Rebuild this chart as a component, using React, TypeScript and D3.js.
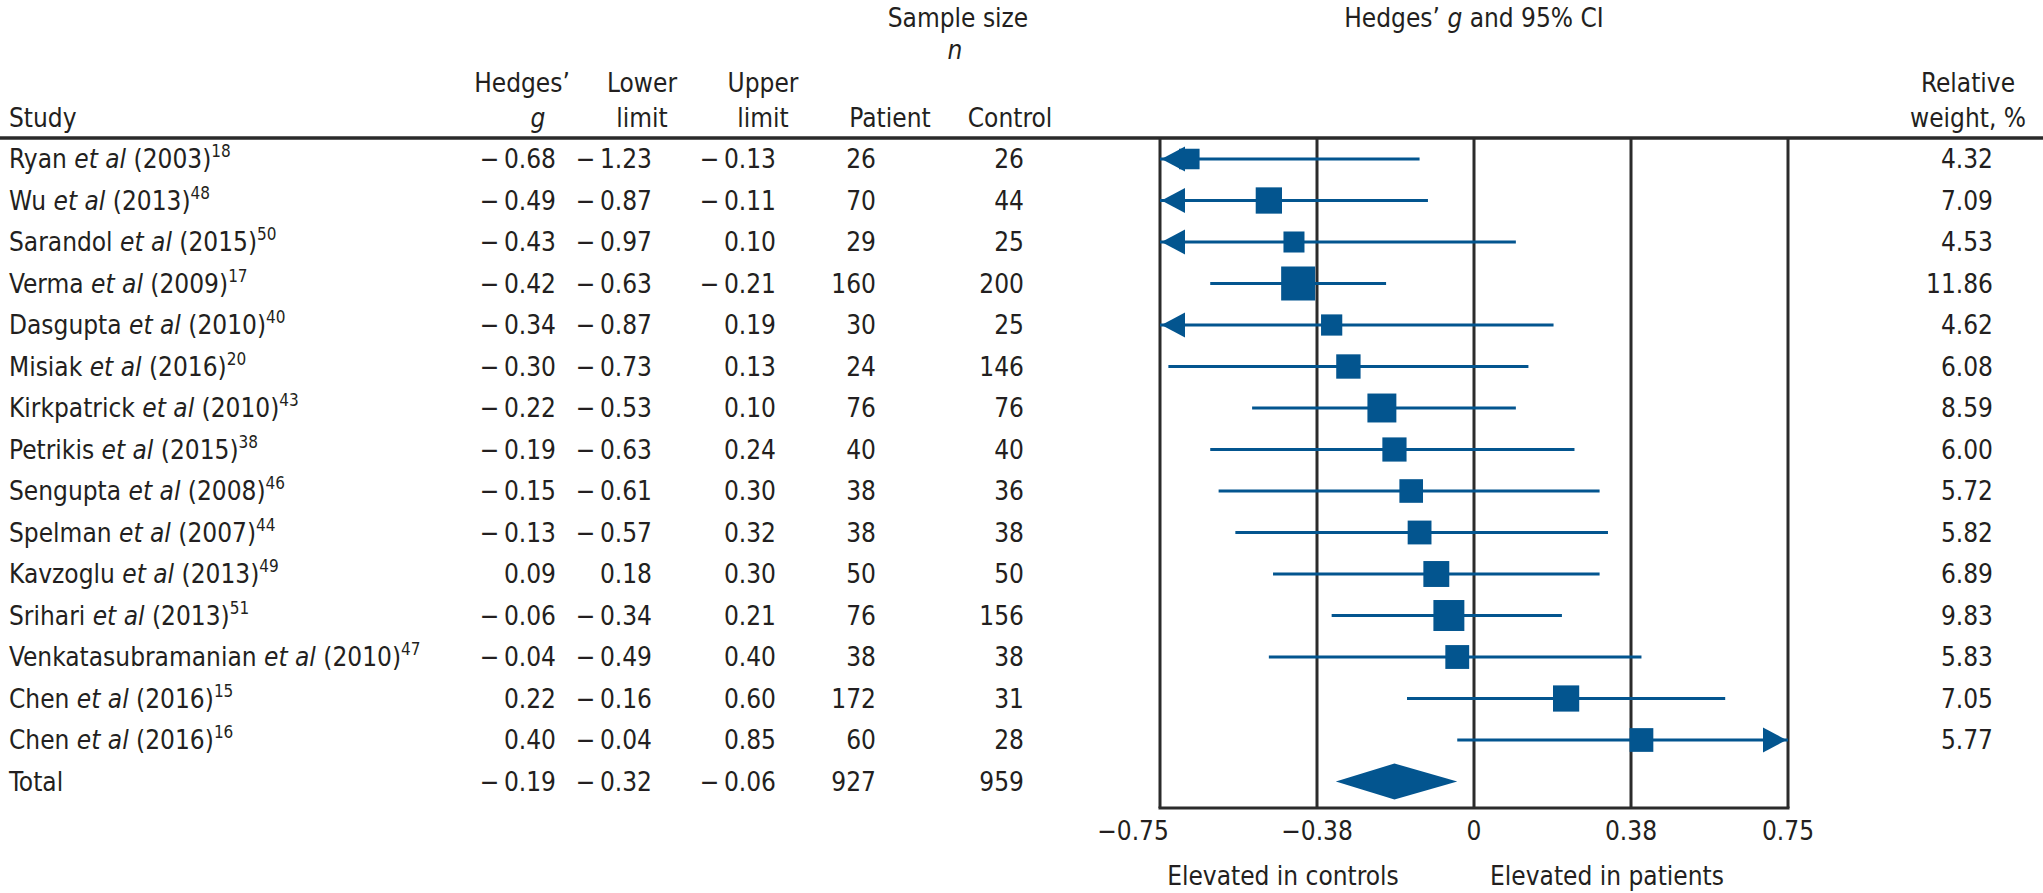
import React from 'react';
import * as d3 from 'd3';

// study rows, top to bottom
const authors = ['Ryan', 'Wu', 'Sarandol', 'Verma', 'Dasgupta', 'Misiak', 'Kirkpatrick', 'Petrikis', 'Sengupta', 'Spelman', 'Kavzoglu', 'Srihari', 'Venkatasubramanian', 'Chen', 'Chen'];
const years = ['2003', '2013', '2015', '2009', '2010', '2016', '2010', '2015', '2008', '2007', '2013', '2013', '2010', '2016', '2016'];
const refs = ['18', '48', '50', '17', '40', '20', '43', '38', '46', '44', '49', '51', '47', '15', '16'];

// values printed in the table
const tableG = [-0.68, -0.49, -0.43, -0.42, -0.34, -0.30, -0.22, -0.19, -0.15, -0.13, 0.09, -0.06, -0.04, 0.22, 0.40];
const tableLower = [-1.23, -0.87, -0.97, -0.63, -0.87, -0.73, -0.53, -0.63, -0.61, -0.57, 0.18, -0.34, -0.49, -0.16, -0.04];
const tableUpper = [-0.13, -0.11, 0.10, -0.21, 0.19, 0.13, 0.10, 0.24, 0.30, 0.32, 0.30, 0.21, 0.40, 0.60, 0.85];
const patients = [26, 70, 29, 160, 30, 24, 76, 40, 38, 38, 50, 76, 38, 172, 60];
const controls = [26, 44, 25, 200, 25, 146, 76, 40, 36, 38, 50, 156, 38, 31, 28];
const weights = [4.32, 7.09, 4.53, 11.86, 4.62, 6.08, 8.59, 6.00, 5.72, 5.82, 6.89, 9.83, 5.83, 7.05, 5.77];

// values as drawn in the forest plot
const plotG = [-0.68, -0.49, -0.43, -0.42, -0.34, -0.30, -0.22, -0.19, -0.15, -0.13, -0.09, -0.06, -0.04, 0.22, 0.40];
const plotLower = [-1.23, -0.87, -0.97, -0.63, -0.87, -0.73, -0.53, -0.63, -0.61, -0.57, -0.48, -0.34, -0.49, -0.16, -0.04];
const plotUpper = [-0.13, -0.11, 0.10, -0.21, 0.19, 0.13, 0.10, 0.24, 0.30, 0.32, 0.30, 0.21, 0.40, 0.60, 0.85];

// pooled estimate
const totalTable = [-0.19, -0.32, -0.06];
const totalN = [927, 959];
const totalPlot = { g: -0.19, lo: -0.33, hi: -0.04 };

const tickValues = [-0.75, -0.375, 0, 0.375, 0.75];
const tickLabels = ['\u22120.75', '\u22120.38', '0', '0.38', '0.75'];

const W = 2043;
const H = 893;
const FONT = "'Liberation Sans Narrow', 'DejaVu Sans Condensed', 'Roboto Condensed', 'Open Sans', sans-serif";
const BLUE = '#03558f';
const INK = '#231f20';
const FRAME = '#2b2b2b';

const fmt = (v: number) => {
    const s = d3.format('.2f')(Math.abs(v));
    return v < 0 ? '\u2212\u2009' + s : s;
};

export default function App() {
    const x = d3.scaleLinear().domain([-0.75, 0.75]).range([1160, 1788]);
    const y = d3.scalePoint<number>().domain(d3.range(16)).range([159, 781.5]);
    const side = d3.scaleSqrt().domain([0, 11.86]).range([0, 34]);

    const top = 138;
    const bottom = 808;
    const base = 9; // text baseline offset from row center

    const colG = 556;
    const colLo = 652;
    const colHi = 776;
    const colPat = 876;
    const colCon = 1024;
    const colW = 1993;

    const arrowLen = 25;
    const arrowHalf = 12.5;

    return (
        <div style={{ position: 'absolute', left: 0, top: 0 }}>
            <svg width={W} height={H} fontFamily={FONT} fontSize={26} fill={INK}>
                <rect width={W} height={H} fill="#fff" />

                {/* column headers */}
                <g>
                    <text x={958} y={27} textAnchor="middle">Sample size</text>
                    <text x={955} y={59} textAnchor="middle" fontStyle="italic">n</text>
                    <text x={x(0)} y={27} textAnchor="middle">
                        Hedges’ <tspan fontStyle="italic">g</tspan> and 95% CI
                    </text>
                    <text x={9} y={127}>Study</text>
                    <text x={colG - 34} y={92} textAnchor="middle">Hedges’</text>
                    <text x={colG - 18} y={127} textAnchor="middle" fontStyle="italic">g</text>
                    <text x={colLo - 10} y={92} textAnchor="middle">Lower</text>
                    <text x={colLo - 10} y={127} textAnchor="middle">limit</text>
                    <text x={colHi - 13} y={92} textAnchor="middle">Upper</text>
                    <text x={colHi - 13} y={127} textAnchor="middle">limit</text>
                    <text x={colPat + 14} y={127} textAnchor="middle">Patient</text>
                    <text x={colCon - 14} y={127} textAnchor="middle">Control</text>
                    <text x={1968} y={92} textAnchor="middle">Relative</text>
                    <text x={1968} y={127} textAnchor="middle">weight, %</text>
                </g>

                <line x1={0} x2={W} y1={top} y2={top} stroke={FRAME} strokeWidth={3.5} />

                {/* table rows */}
                {authors.map((a, i) => (
                    <g key={i}>
                        <text x={9} y={y(i)! + base}>
                            {a} <tspan fontStyle="italic">et al</tspan> ({years[i]})
                            <tspan dy={-11} fontSize={17}>{refs[i]}</tspan>
                        </text>
                        <text x={colG} y={y(i)! + base} textAnchor="end">{fmt(tableG[i])}</text>
                        <text x={colLo} y={y(i)! + base} textAnchor="end">{fmt(tableLower[i])}</text>
                        <text x={colHi} y={y(i)! + base} textAnchor="end">{fmt(tableUpper[i])}</text>
                        <text x={colPat} y={y(i)! + base} textAnchor="end">{patients[i]}</text>
                        <text x={colCon} y={y(i)! + base} textAnchor="end">{controls[i]}</text>
                        <text x={colW} y={y(i)! + base} textAnchor="end">{weights[i].toFixed(2)}</text>
                    </g>
                ))}
                <g>
                    <text x={9} y={y(15)! + base}>Total</text>
                    <text x={colG} y={y(15)! + base} textAnchor="end">{fmt(totalTable[0])}</text>
                    <text x={colLo} y={y(15)! + base} textAnchor="end">{fmt(totalTable[1])}</text>
                    <text x={colHi} y={y(15)! + base} textAnchor="end">{fmt(totalTable[2])}</text>
                    <text x={colPat} y={y(15)! + base} textAnchor="end">{totalN[0]}</text>
                    <text x={colCon} y={y(15)! + base} textAnchor="end">{totalN[1]}</text>
                </g>

                {/* plot frame */}
                {tickValues.map((v, i) => (
                    <line key={i} x1={x(v)} x2={x(v)} y1={top} y2={bottom} stroke={FRAME} strokeWidth={3} />
                ))}
                <line x1={x(-0.75) - 1.5} x2={x(0.75) + 1.5} y1={bottom} y2={bottom} stroke={FRAME} strokeWidth={3} />
                {tickValues.map((v, i) => (
                    <text key={i} x={x(v) + (i === 0 ? -27 : 0)} y={840} textAnchor="middle">{tickLabels[i]}</text>
                ))}
                <text x={1283} y={885} textAnchor="middle">Elevated in controls</text>
                <text x={1607} y={885} textAnchor="middle">Elevated in patients</text>

                {/* study estimates */}
                {plotG.map((g, i) => {
                    const cy = y(i)!;
                    const lo = Math.max(plotLower[i], -0.75);
                    const hi = Math.min(plotUpper[i], 0.75);
                    const s = side(weights[i]);
                    return (
                        <g key={i} fill={BLUE}>
                            <line x1={x(lo)} x2={x(hi)} y1={cy} y2={cy} stroke={BLUE} strokeWidth={3} />
                            <rect x={x(g) - s / 2} y={cy - s / 2} width={s} height={s} />
                            {plotLower[i] < -0.75 && (
                                <polygon points={`${x(-0.75) + 1.5},${cy} ${x(-0.75) + arrowLen},${cy - arrowHalf} ${x(-0.75) + arrowLen},${cy + arrowHalf}`} />
                            )}
                            {plotUpper[i] > 0.75 && (
                                <polygon points={`${x(0.75) - 1.5},${cy} ${x(0.75) - arrowLen},${cy - arrowHalf} ${x(0.75) - arrowLen},${cy + arrowHalf}`} />
                            )}
                        </g>
                    );
                })}

                {/* pooled diamond */}
                <polygon
                    fill={BLUE}
                    points={[
                        [x(totalPlot.lo), y(15)!],
                        [x(totalPlot.g), y(15)! - 18],
                        [x(totalPlot.hi), y(15)!],
                        [x(totalPlot.g), y(15)! + 18],
                    ].map(p => p.join(',')).join(' ')}
                />
            </svg>
        </div>
    );
}
